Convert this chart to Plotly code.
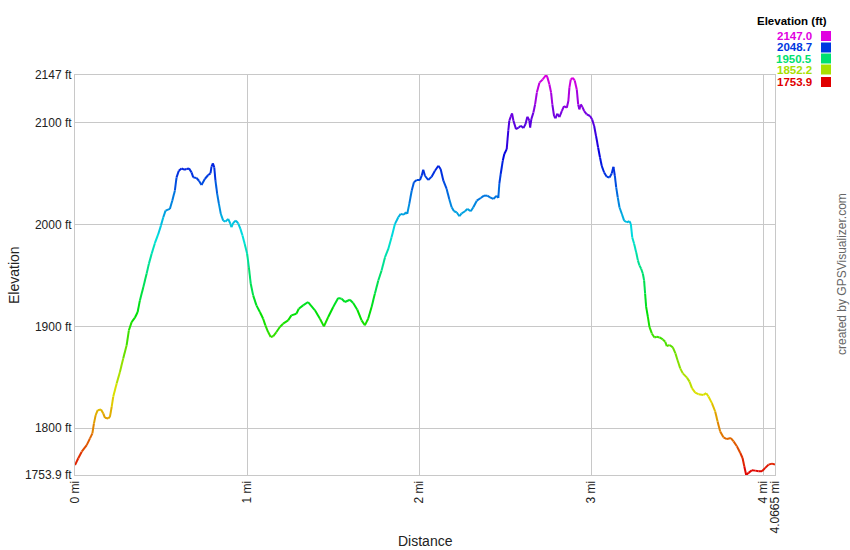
import colorsys
import plotly.graph_objects as go

# ---- data (distance in miles, elevation in feet) ----
distance_mi = [
    0.000, 0.019, 0.039, 0.068, 0.087, 0.101, 0.110, 0.120, 0.132, 0.151, 0.164, 0.174, 0.193, 0.203,
    0.213, 0.222, 0.242, 0.261, 0.280, 0.300, 0.313, 0.329, 0.348, 0.364, 0.377, 0.397, 0.416, 0.429,
    0.445, 0.464, 0.484, 0.499, 0.513, 0.526, 0.551, 0.565, 0.580, 0.590, 0.603, 0.619, 0.634, 0.648,
    0.662, 0.677, 0.687, 0.706, 0.720, 0.735, 0.754, 0.774, 0.787, 0.793, 0.801, 0.809, 0.816, 0.826,
    0.836, 0.847, 0.861, 0.874, 0.890, 0.903, 0.909, 0.919, 0.934, 0.948, 0.961, 0.973, 0.986, 1.000,
    1.010, 1.021, 1.035, 1.054, 1.074, 1.093, 1.106, 1.122, 1.137, 1.151, 1.170, 1.190, 1.209, 1.238,
    1.257, 1.286, 1.300, 1.325, 1.354, 1.394, 1.423, 1.446, 1.471, 1.500, 1.529, 1.549, 1.568, 1.597,
    1.616, 1.640, 1.665, 1.684, 1.703, 1.723, 1.742, 1.762, 1.781, 1.801, 1.820, 1.839, 1.859, 1.878,
    1.892, 1.911, 1.923, 1.930, 1.942, 1.956, 1.969, 1.985, 2.004, 2.014, 2.023, 2.033, 2.052, 2.072,
    2.091, 2.111, 2.124, 2.140, 2.159, 2.174, 2.188, 2.202, 2.217, 2.233, 2.246, 2.266, 2.279, 2.299,
    2.314, 2.334, 2.357, 2.376, 2.395, 2.411, 2.430, 2.450, 2.459, 2.465, 2.473, 2.485, 2.494, 2.508,
    2.517, 2.523, 2.531, 2.539, 2.547, 2.562, 2.578, 2.590, 2.605, 2.617, 2.628, 2.640, 2.644, 2.651,
    2.663, 2.673, 2.683, 2.698, 2.717, 2.737, 2.744, 2.756, 2.766, 2.773, 2.783, 2.791, 2.802, 2.814,
    2.828, 2.841, 2.857, 2.866, 2.872, 2.880, 2.892, 2.903, 2.915, 2.923, 2.930, 2.938, 2.948, 2.958,
    2.973, 2.992, 3.004, 3.016, 3.027, 3.039, 3.050, 3.060, 3.074, 3.089, 3.105, 3.118, 3.128, 3.136,
    3.144, 3.153, 3.163, 3.177, 3.190, 3.206, 3.221, 3.229, 3.237, 3.248, 3.260, 3.270, 3.279, 3.289,
    3.299, 3.306, 3.312, 3.318, 3.328, 3.337, 3.351, 3.366, 3.380, 3.396, 3.415, 3.429, 3.438, 3.454,
    3.473, 3.488, 3.500, 3.516, 3.531, 3.555, 3.570, 3.584, 3.603, 3.622, 3.651, 3.667, 3.680, 3.700,
    3.719, 3.733, 3.748, 3.767, 3.787, 3.810, 3.826, 3.845, 3.865, 3.878, 3.888, 3.899, 3.913, 3.932,
    3.952, 3.971, 3.991, 4.010, 4.029, 4.049, 4.0665,
]
elevation_ft = [
    1763.7, 1770.3, 1776.8, 1783.3, 1789.9, 1794.8, 1804.6, 1812.7, 1817.6, 1818.3, 1814.4, 1810.1, 1809.5, 1811.1,
    1820.9, 1830.7, 1843.8, 1855.2, 1868.3, 1881.4, 1896.1, 1904.2, 1908.5, 1914.1, 1925.5, 1938.6, 1951.6, 1961.4,
    1971.2, 1981.7, 1990.8, 1999.0, 2007.2, 2013.7, 2015.4, 2023.5, 2033.3, 2046.4, 2052.9, 2055.2, 2053.9, 2054.6,
    2055.2, 2051.3, 2046.4, 2045.8, 2043.1, 2038.9, 2044.8, 2048.7, 2050.3, 2056.9, 2060.1, 2056.2, 2043.1, 2030.1,
    2020.3, 2010.5, 2003.9, 2002.9, 2005.6, 2000.7, 1997.4, 2001.6, 2003.9, 2001.3, 1995.8, 1989.2, 1981.0, 1971.2,
    1958.2, 1941.8, 1930.4, 1920.6, 1914.1, 1907.5, 1901.0, 1894.4, 1889.5, 1890.2, 1894.4, 1899.3, 1902.6, 1905.9,
    1910.8, 1912.4, 1917.3, 1920.6, 1923.9, 1915.7, 1907.5, 1900.0, 1909.2, 1919.0, 1927.8, 1927.1, 1923.9, 1926.1,
    1922.9, 1916.3, 1905.9, 1901.0, 1907.5, 1919.0, 1932.0, 1945.1, 1954.9, 1968.0, 1976.1, 1987.6, 2000.7, 2007.2,
    2010.5, 2009.8, 2012.1, 2010.5, 2020.3, 2033.3, 2041.5, 2043.8, 2043.8, 2048.0, 2053.9, 2048.0, 2043.8, 2047.1,
    2052.9, 2057.8, 2054.6, 2043.1, 2035.0, 2025.2, 2017.0, 2013.1, 2012.1, 2008.2, 2011.1, 2013.1, 2015.4, 2013.1,
    2017.0, 2023.5, 2026.1, 2028.4, 2028.4, 2026.8, 2025.2, 2028.4, 2026.1, 2039.9, 2049.7, 2062.7, 2069.3, 2074.2,
    2092.2, 2102.0, 2105.9, 2109.2, 2102.0, 2093.8, 2095.4, 2097.1, 2094.8, 2098.7, 2105.9, 2102.0, 2095.4, 2103.6,
    2110.1, 2118.3, 2129.7, 2139.5, 2142.6, 2147.0, 2144.9, 2137.7, 2129.5, 2118.1, 2106.7, 2104.4, 2109.0, 2105.7,
    2111.6, 2116.5, 2114.8, 2121.4, 2134.4, 2142.6, 2144.2, 2141.6, 2132.8, 2118.1, 2113.2, 2118.1, 2115.5, 2111.6,
    2108.3, 2106.7, 2103.4, 2096.9, 2087.1, 2075.7, 2065.9, 2057.7, 2051.2, 2047.0, 2046.3, 2050.2, 2056.8, 2048.0,
    2036.5, 2026.8, 2017.0, 2010.4, 2003.9, 2002.3, 2003.3, 2000.7, 1987.6, 1981.1, 1972.9, 1964.8, 1959.9, 1956.6,
    1951.7, 1945.2, 1932.1, 1919.1, 1909.3, 1899.5, 1893.0, 1889.1, 1889.7, 1889.1, 1887.1, 1884.8, 1880.6, 1881.6,
    1879.3, 1873.4, 1866.9, 1858.7, 1853.8, 1849.6, 1845.7, 1839.2, 1834.9, 1833.3, 1832.6, 1834.3, 1831.0, 1824.5,
    1816.3, 1806.5, 1796.7, 1790.9, 1789.2, 1790.2, 1786.9, 1782.1, 1775.5, 1770.6, 1762.5, 1753.9, 1756.0, 1758.6,
    1758.2, 1757.6, 1757.6, 1760.9, 1764.1, 1765.1, 1764.1,
]

x_tickvals = [0, 1, 2, 3, 4, 4.0665]
x_ticktext = ["0 mi", "1 mi", "2 mi", "3 mi", "4 mi", "4.0665 mi"]
y_tickvals = [1753.9, 1800, 1900, 2000, 2100, 2147]
y_ticktext = ["1753.9 ft", "1800 ft", "1900 ft", "2000 ft", "2100 ft", "2147 ft"]
legend_values = [2147.0, 2048.7, 1950.5, 1852.2, 1753.9]

E_MIN, E_MAX = 1753.9, 2147.0
X_MAX = 4.0665


def elev_color(v):
    t = (v - E_MIN) / (E_MAX - E_MIN)
    t = min(max(t, 0.0), 1.0)
    r, g, b = colorsys.hsv_to_rgb((300.0 * t) / 360.0, 1.0, 0.88)
    return "rgb(%d,%d,%d)" % (round(r * 255), round(g * 255), round(b * 255))


FONT = "Liberation Sans, Arial, sans-serif"
fig = go.Figure()

# group line segments by colour bin
NBINS = 80
bins = {}
for i in range(len(distance_mi) - 1):
    mid = 0.5 * (elevation_ft[i] + elevation_ft[i + 1])
    t = (mid - E_MIN) / (E_MAX - E_MIN)
    k = min(NBINS - 1, max(0, int(t * NBINS)))
    bins.setdefault(k, ([], []))
    xs, ys = bins[k]
    xs += [distance_mi[i], distance_mi[i + 1], None]
    ys += [elevation_ft[i], elevation_ft[i + 1], None]

for k in sorted(bins):
    xs, ys = bins[k]
    v = E_MIN + (k + 0.5) / NBINS * (E_MAX - E_MIN)
    fig.add_trace(go.Scatter(
        x=xs, y=ys, mode="lines",
        line=dict(color=elev_color(v), width=2),
        showlegend=False, hoverinfo="skip",
    ))

GRID = "#c8c8c8"
fig.update_layout(
    width=850, height=550,
    margin=dict(l=75, r=75, t=75, b=75),
    paper_bgcolor="white", plot_bgcolor="white",
    font=dict(family=FONT, size=12, color="#222"),
    xaxis=dict(
        range=[0, X_MAX], tickmode="array", tickvals=x_tickvals, ticktext=x_ticktext,
        tickangle=-90, showgrid=True, gridcolor=GRID, gridwidth=1,
        showline=True, linecolor=GRID, linewidth=1, mirror=True,
        zeroline=False, ticks="", tickfont=dict(size=12, color="#222", family=FONT),
        automargin=False,
    ),
    yaxis=dict(
        range=[E_MIN, E_MAX], tickmode="array", tickvals=y_tickvals, ticktext=y_ticktext,
        showgrid=True, gridcolor=GRID, gridwidth=1,
        showline=True, linecolor=GRID, linewidth=1, mirror=True,
        zeroline=False, ticks="", tickfont=dict(size=12, color="#222", family=FONT),
        automargin=False,
    ),
)

annotations = [
    dict(text="Elevation", x=(14 - 75) / 700, y=0.5, xref="paper", yref="paper",
         textangle=-90, showarrow=False, font=dict(size=14, color="#222", family=FONT),
         xanchor="center", yanchor="middle"),
    dict(text="Distance", x=0.5, y=(475 - 541) / 400, xref="paper", yref="paper",
         showarrow=False, font=dict(size=14, color="#222", family=FONT),
         xanchor="center", yanchor="middle"),
    dict(text="created by GPSVisualizer.com", x=(842 - 75) / 700, y=(475 - 274) / 400,
         xref="paper", yref="paper", textangle=-90, showarrow=False,
         font=dict(size=12, color="#666", family=FONT), xanchor="center", yanchor="middle"),
    dict(text="<b>Elevation (ft)</b>", x=(829 - 75) / 700, y=(475 - 21) / 400,
         xref="paper", yref="paper", showarrow=False,
         font=dict(size=11.5, color="#000", family=FONT), xanchor="right", yanchor="middle"),
]
row_y = [36, 47.5, 58.5, 69.5, 82]
shapes = []
for val, py in zip(legend_values, row_y):
    c = elev_color(val)
    annotations.append(dict(
        text="<b>%.1f</b>" % val, x=(814 - 75) / 700, y=(475 - py) / 400,
        xref="paper", yref="paper", showarrow=False,
        font=dict(size=11.5, color=c, family=FONT), xanchor="right", yanchor="middle"))
    shapes.append(dict(
        type="rect", xref="paper", yref="paper",
        x0=(821 - 75) / 700, x1=(831 - 75) / 700,
        y0=(475 - (py - 5)) / 400, y1=(475 - (py + 5)) / 400,
        fillcolor=c, line=dict(width=0)))

fig.update_layout(annotations=annotations, shapes=shapes)
fig.write_html(
    "out.html",
    config={"displayModeBar": False, "staticPlot": True},
    post_script="document.body.style.margin='0px';document.body.style.overflow='hidden';",
)
